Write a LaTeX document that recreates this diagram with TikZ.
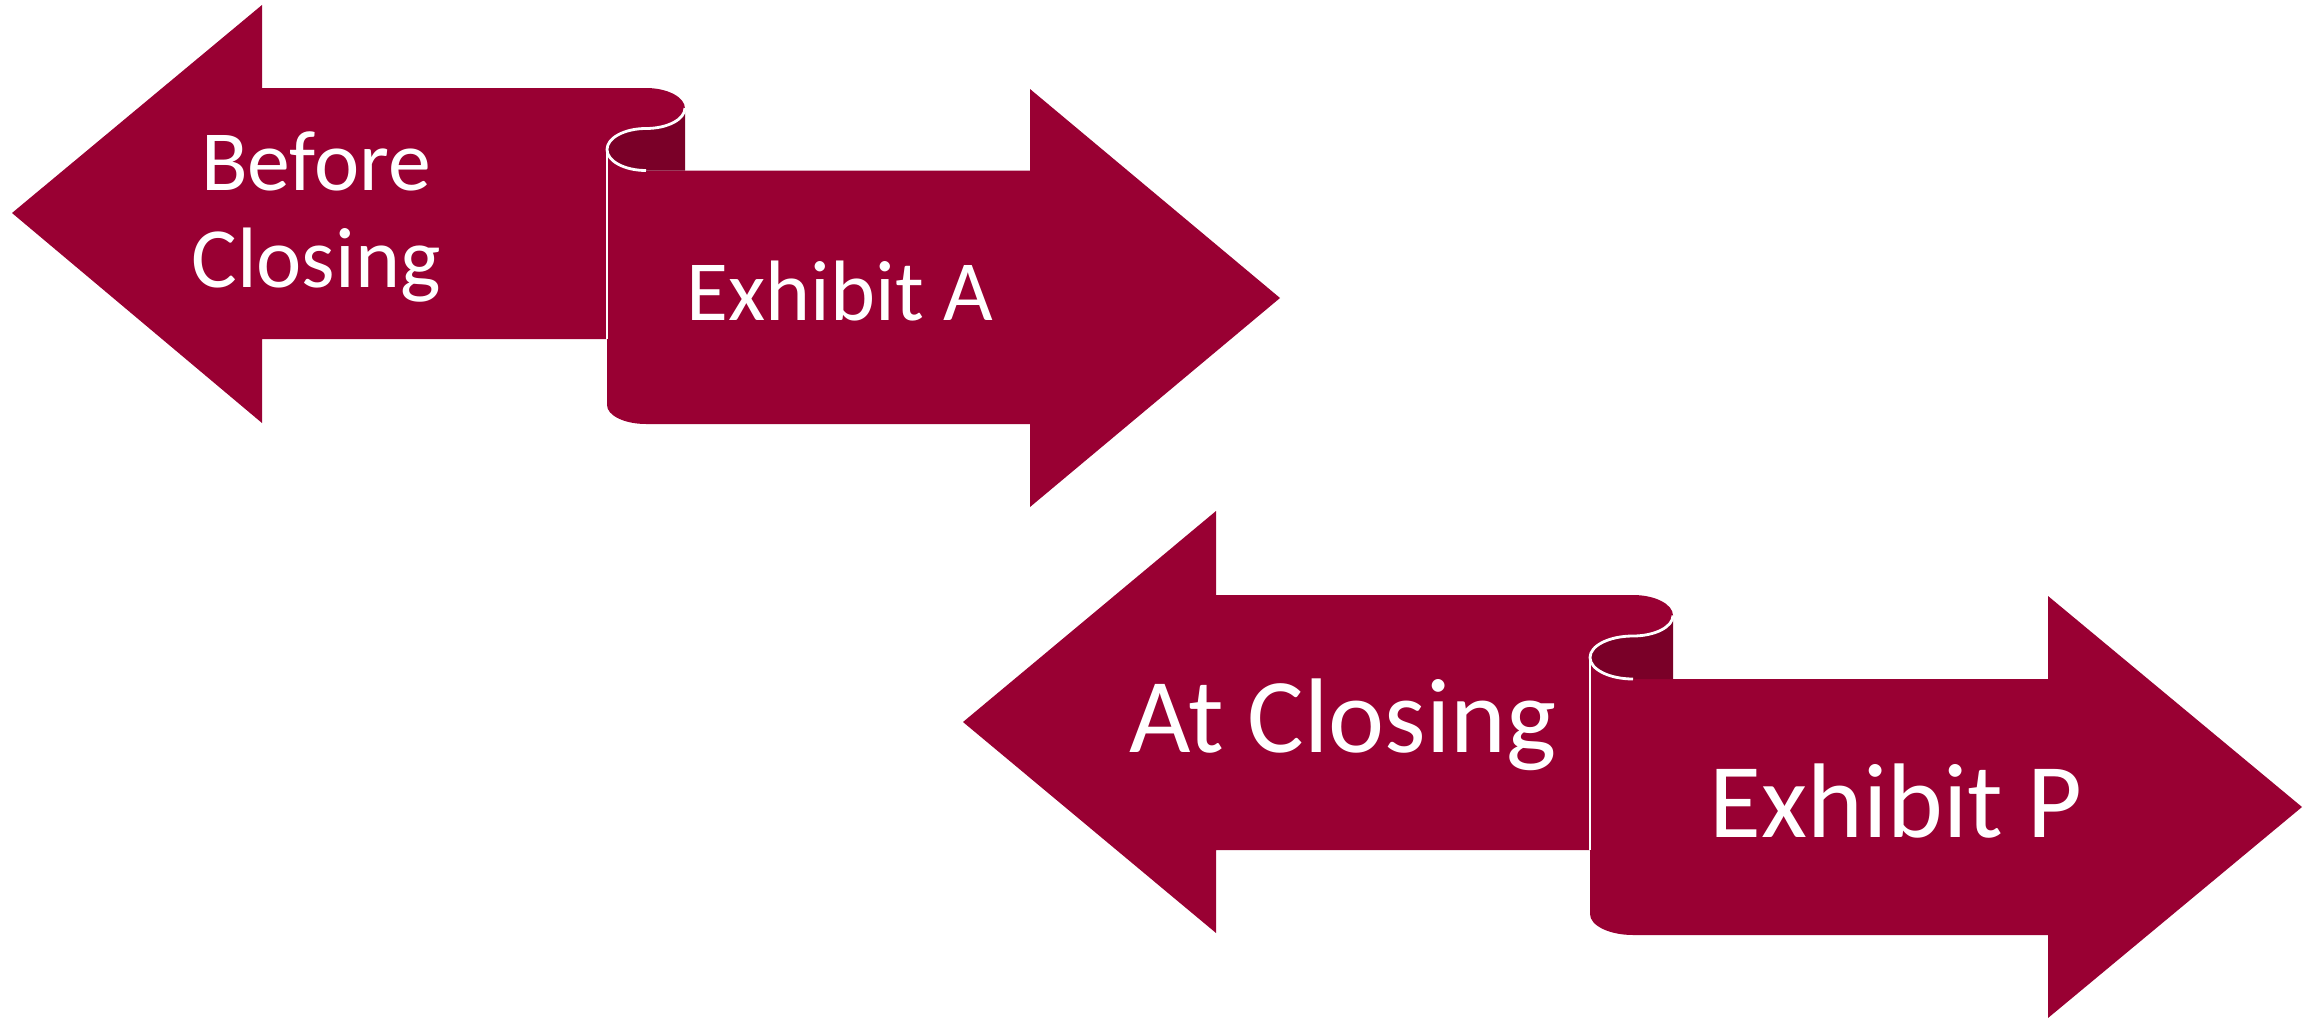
\documentclass[tikz,border=0pt]{standalone}
\usepackage{fontspec}
\setmainfont{Carlito}
\usetikzlibrary{positioning}

\definecolor{ribbon}{HTML}{990033}
\definecolor{ribbondark}{HTML}{7A0028}

\begin{document}
\begin{tikzpicture}[x=0.1mm,y=0.1mm]
        \tikzset{body/.style={fill=ribbon},
        curl/.style={fill=ribbondark},
        rim/.style={draw=white,line width=0.8pt,line join=round},
        smalltxt/.style={text=white,anchor=base,inner sep=0pt,font=\fontsize{24.4}{29}\selectfont},
        bigtxt/.style={text=white,anchor=base,inner sep=0pt,font=\fontsize{30.2}{36}\selectfont},
        }
        \useasboundingbox (0,0) rectangle (2315,-1018);

%% first pair
        % right arrow, drawn first so the scroll sits on it
        \path[body] (607,-149.5) -- (607,-405)
            arc[start angle=180,end angle=270,x radius=39,y radius=19]
            -- (1030,-424) -- (1030,-507) -- (1280,-298) -- (1030,-89) -- (1030,-170.5) -- (646,-170.5)
            arc[start angle=270,end angle=180,x radius=39,y radius=21] -- cycle;
        % inside of the curl
        \path[curl] (607,-149.5)
            arc[start angle=180,end angle=90,x radius=39,y radius=21]
            arc[start angle=-90,end angle=0,x radius=39,y radius=20.5]
            -- (685,-170.5) -- (646,-170.5)
            arc[start angle=270,end angle=180,x radius=39,y radius=21] -- cycle;
        % left arrow
        \path[body] (12,-213) -- (262,-5) -- (262,-88) -- (646,-88)
            arc[start angle=90,end angle=-90,x radius=39,y radius=20.5]
            arc[start angle=90,end angle=180,x radius=39,y radius=21]
            -- (607,-339) -- (262,-339) -- (262,-423) -- cycle;
        \path[rim] (685,-108)
            arc[start angle=0,end angle=-90,x radius=39,y radius=20.5]
            arc[start angle=90,end angle=270,x radius=39,y radius=21];
        \path[rim] (607,-149.5) -- (607,-339);

        \node[smalltxt] (before) at (316,-190) {Before};
        \node[smalltxt] (closing) at (316,-287) {Closing};
        \node[smalltxt] (exhibitA) at (840,-320) {Exhibit A};

%% second pair
        \path[body] (1590,-657.5) -- (1590,-914)
            arc[start angle=180,end angle=270,x radius=43,y radius=21]
            -- (2048,-935) -- (2048,-1018) -- (2302,-807) -- (2048,-596) -- (2048,-679) -- (1633,-679)
            arc[start angle=270,end angle=180,x radius=43,y radius=21.5] -- cycle;
        \path[curl] (1590,-657.5)
            arc[start angle=180,end angle=90,x radius=43,y radius=21.5]
            arc[start angle=-90,end angle=0,x radius=40,y radius=20.5]
            -- (1673,-679) -- (1633,-679)
            arc[start angle=270,end angle=180,x radius=43,y radius=21.5] -- cycle;
        \path[body] (963,-722) -- (1216,-511) -- (1216,-595) -- (1633,-595)
            arc[start angle=90,end angle=-90,x radius=40,y radius=20.5]
            arc[start angle=90,end angle=180,x radius=43,y radius=21.5]
            -- (1590,-850) -- (1216,-850) -- (1216,-933) -- cycle;
        \path[rim] (1673,-615.5)
            arc[start angle=0,end angle=-90,x radius=40,y radius=20.5]
            arc[start angle=90,end angle=270,x radius=43,y radius=21.5];
        \path[rim] (1590,-657.5) -- (1590,-850);

        \node[bigtxt] (atclosing) at (1343,-752) {At Closing};
        \node[bigtxt] (exhibitP) at (1896,-837) {Exhibit P};
\end{tikzpicture}
\end{document}
